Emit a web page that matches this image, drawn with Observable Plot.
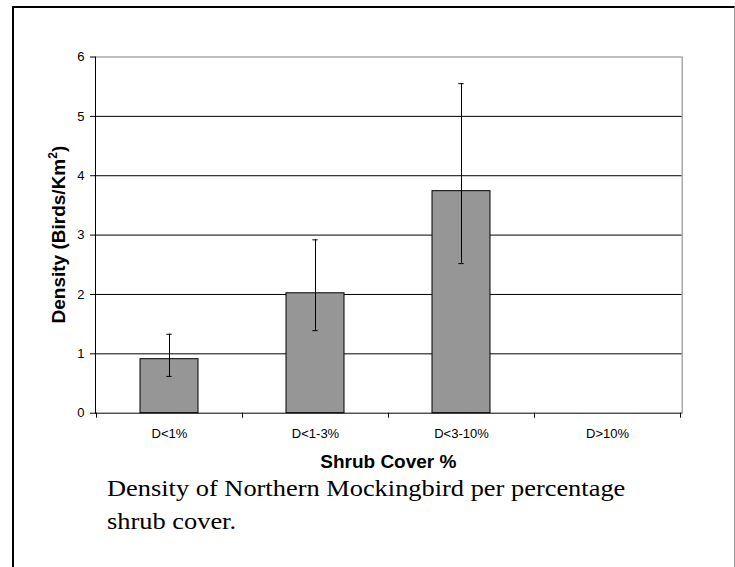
<!DOCTYPE html>
<html>
<head>
<meta charset="utf-8">
<script src="https://cdn.jsdelivr.net/npm/d3@7"></script>
<script src="https://cdn.jsdelivr.net/npm/@observablehq/plot@0.6"></script>
<style>
  html, body { margin: 0; padding: 0; background: #fff; overflow: hidden; }
  #wrap { position: relative; width: 735px; height: 567px; overflow: hidden; }
  #frame { position: absolute; left: 12px; top: 6px; width: 720px; height: 700px;
           border-left: 2px solid #000; border-top: 2px solid #000; border-right: 1px solid #9a9a9a;
           pointer-events: none; }
  #chart { position: absolute; left: 0; top: 0; }
  #chart g[aria-label$="tick label"] { font-size: 13px; fill: #000; }
  #caption { position: absolute; left: 107px; top: 472px; white-space: nowrap;
             font-family: "Liberation Serif", "Times New Roman", serif; font-size: 24px;
             line-height: 33px; color: #000; transform: scaleX(1.1); transform-origin: left top; }
</style>
</head>
<body>
<div id="wrap">
  <div id="chart"></div>
  <div id="frame"></div>
  <div id="caption"></div>
</div>
<script>
const categories = ["D<1%", "D<1-3%", "D<3-10%", "D>10%"];
const density = [0.91, 2.02, 3.74, 0];
const lower = [0.62, 1.39, 2.52, null];
const upper = [1.33, 2.92, 5.55, null];
const yTicks = [0, 1, 2, 3, 4, 5, 6];
const xTitle = "Shrub Cover %";
const yTitleMain = "Density (Birds/Km";
const yTitleSup = "2";
const yTitleEnd = ")";
const captionLines = ["Density of Northern Mockingbird per percentage", "shrub cover."];

const data = categories.map((c, i) => ({cat: c, v: density[i], lo: lower[i], hi: upper[i]}));
const bars = data.filter(d => d.v > 0);
const errs = data.filter(d => d.lo != null && d.hi != null);

const W = 735, H = 485;
const mL = 95, mR = 53.3, mT = 56.5, mB = H - 412.7;
const font = "'Liberation Sans', Arial, sans-serif";

// boundary ticks between categories (Excel-style), derived from the band scale
function boundaryTicks(index, scales, values, dimensions) {
  const x = scales.x, y = scales.y;
  const bw = x.bandwidth ? x.bandwidth() : 0;
  const step = categories.length > 1 ? x(categories[1]) - x(categories[0]) : bw;
  const start = x(categories[0]) + bw / 2 - step / 2;
  const y0 = y(0);
  const g = d3.create("svg:g");
  for (let i = 0; i <= categories.length; i++) {
    const px = Math.round(start + i * step) + 0.5;
    g.append("line").attr("x1", px).attr("x2", px).attr("y1", y0).attr("y2", y0 + 5)
      .attr("stroke", "#000");
  }
  return g.node();
}

const plot = Plot.plot({
  width: W,
  height: H,
  marginLeft: mL,
  marginRight: mR,
  marginTop: mT,
  marginBottom: mB,
  style: {fontFamily: font, fontSize: "13px", color: "#000", background: "transparent"},
  x: {type: "band", domain: categories, paddingInner: 0.6, paddingOuter: 0.3, label: null},
  y: {domain: [0, 6], label: null},
  marks: [
    Plot.ruleY(yTicks.filter(t => t > 0 && t < 6), {stroke: "#000", strokeWidth: 1}),
    Plot.ruleY([6], {stroke: "#808080", strokeWidth: 1}),
    Plot.frame({anchor: "right", stroke: "#808080"}),
    Plot.barY(bars, {x: "cat", y: "v", fill: "#969696", stroke: "#000", strokeWidth: 1}),
    Plot.ruleX(errs, {x: "cat", y1: "lo", y2: "hi", stroke: "#000", strokeWidth: 1}),
    Plot.tickY(errs, {x: "cat", y: "hi", stroke: "#000", strokeWidth: 1, inset: 26.3}),
    Plot.tickY(errs, {x: "cat", y: "lo", stroke: "#000", strokeWidth: 1, inset: 26.3}),
    Plot.axisY({ticks: yTicks, tickFormat: d3.format("d"), tickSize: 5, tickPadding: 6, label: null, stroke: "#000", fill: "#000", fontSize: 13}),
    Plot.axisX({tickSize: 0, tickPadding: 16, label: null, fill: "#000", fontSize: 13}),
    Plot.frame({anchor: "left", stroke: "#000"}),
    Plot.ruleY([0], {stroke: "#000"}),
    boundaryTicks
  ]
});

document.getElementById("chart").appendChild(plot);

const svg = d3.select(plot);
// x-axis title
svg.append("text")
  .attr("x", (mL + (W - mR)) / 2)
  .attr("y", 468.3)
  .attr("text-anchor", "middle")
  .attr("font-family", font)
  .attr("font-weight", "bold")
  .attr("font-size", 19)
  .attr("fill", "#000")
  .text(xTitle);

// y-axis title
const yt = svg.append("text")
  .attr("transform", `translate(65,${(mT + (H - mB)) / 2}) rotate(-90)`)
  .attr("text-anchor", "middle")
  .attr("font-family", font)
  .attr("font-weight", "bold")
  .attr("font-size", 19)
  .attr("fill", "#000");
yt.append("tspan").text(yTitleMain);
yt.append("tspan").attr("font-size", 12).attr("dy", -8).text(yTitleSup);
yt.append("tspan").attr("dy", 8).text(yTitleEnd);

const cap = document.getElementById("caption");
cap.innerHTML = captionLines.map(s => s.replace(/&/g, "&amp;").replace(/</g, "&lt;")).join("<br>");
</script>
</body>
</html>
